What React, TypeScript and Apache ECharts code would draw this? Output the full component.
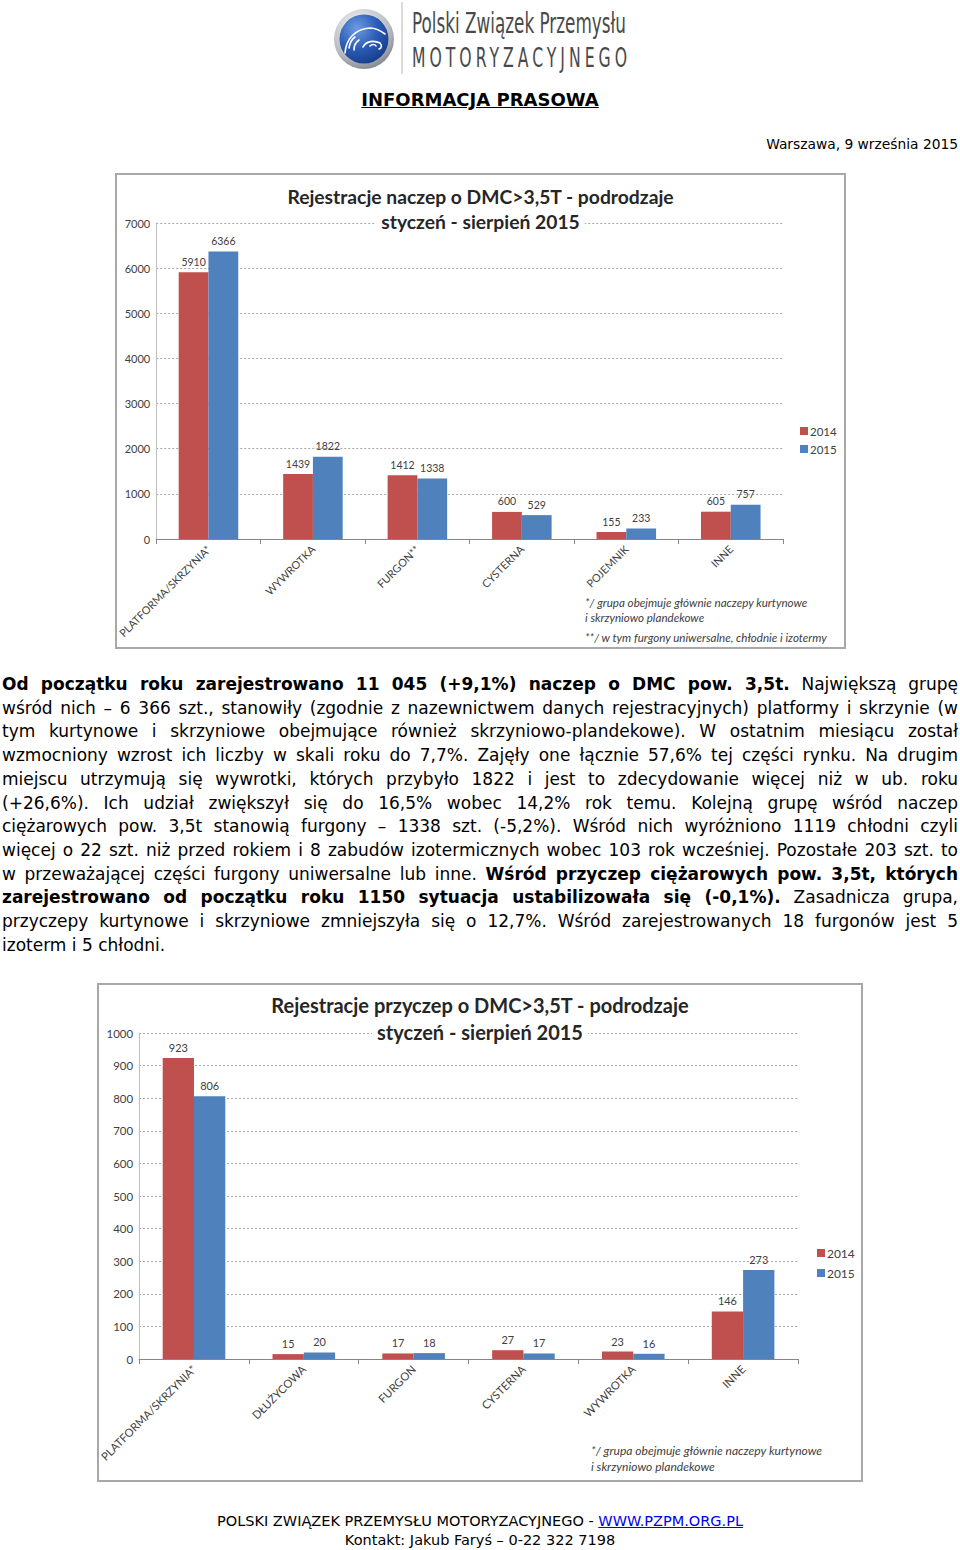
import React, { useEffect, useRef } from "react";
import * as echarts from "echarts";

// ---------- data ----------
const cats1 = ["PLATFORMA/SKRZYNIA*", "WYWROTKA", "FURGON**", "CYSTERNA", "POJEMNIK", "INNE"];
const naczepy2014 = [5910, 1439, 1412, 600, 155, 605];
const naczepy2015 = [6366, 1822, 1338, 529, 233, 757];

const cats2 = ["PLATFORMA/SKRZYNIA*", "DŁUŻYCOWA", "FURGON", "CYSTERNA", "WYWROTKA", "INNE"];
const przyczepy2014 = [923, 15, 17, 27, 23, 146];
const przyczepy2015 = [806, 20, 18, 17, 16, 273];

const seriesNames = ["2014", "2015"];
const title1 = ["Rejestracje naczep o DMC>3,5T - podrodzaje", "styczeń - sierpień 2015"];
const title2 = ["Rejestracje przyczep o DMC>3,5T - podrodzaje", "styczeń - sierpień 2015"];
const notes1 = [
  "*/ grupa obejmuje głównie naczepy kurtynowe",
  "i skrzyniowo plandekowe",
  "**/ w tym furgony uniwersalne, chłodnie i izotermy",
];
const notes2 = ["*/ grupa obejmuje głównie naczepy kurtynowe", "i skrzyniowo plandekowe"];

const RED = "#C0504D";
const BLUE = "#4F81BD";
const TXT = "#404040";
const FF = "Lato, 'Noto Sans', sans-serif";

type Cfg = {
  cats: string[];
  a: number[];
  b: number[];
  max: number;
  interval: number;
  title: string[];
  notes: string[];
  w: number;
  h: number;
  grid: { left: number; right: number; top: number; bottom: number };
  titleTops: number[];
  titleSize: number;
  legendLeft: number;
  legendTop: number;
  legendGap: number;
  notesX: number;
  notesY: number[];
  scale: number;
};

function buildOption(c: Cfg) {
  const s = c.scale;
  const labelStyle = {
    show: true,
    position: "top" as const,
    distance: 5,
    color: TXT,
    fontFamily: FF,
    fontSize: 10.5 * s,
  };
  const titleText = {
    fontFamily: FF,
    fontWeight: "bold" as const,
    fontSize: c.titleSize,
    color: "#262626",
    lineHeight: 22,
  };
  return {
    animation: false,
    title: [
      { text: c.title[0], left: "center", top: c.titleTops[0], padding: 0, textStyle: titleText },
      {
        text: c.title[1],
        left: "center",
        top: c.titleTops[1],
        padding: [0, 5],
        backgroundColor: "#ffffff",
        textStyle: titleText,
      },
    ],
    legend: {
      orient: "vertical",
      left: c.legendLeft,
      top: c.legendTop,
      padding: 0,
      itemWidth: 8,
      itemHeight: 8,
      itemGap: c.legendGap,
      icon: "rect",
      textStyle: { fontFamily: FF, fontSize: 11.5 * s, color: TXT, padding: [0, 0, 0, -3] },
      data: seriesNames,
    },
    grid: c.grid,
    xAxis: {
      type: "category",
      data: c.cats,
      axisLine: { lineStyle: { color: "#868686", width: 1 } },
      axisTick: { show: true, length: 5, lineStyle: { color: "#868686" } },
      axisLabel: {
        interval: 0,
        rotate: 45,
        margin: 8,
        color: TXT,
        fontFamily: FF,
        fontSize: 10.8 * s,
      },
    },
    yAxis: {
      type: "value",
      min: 0,
      max: c.max,
      interval: c.interval,
      axisLine: { show: true, lineStyle: { color: "#bfbfbf", width: 1 } },
      axisTick: { show: false },
      axisLabel: {
        color: TXT,
        fontFamily: FF,
        fontSize: 11 * s,
        margin: 6,
        formatter: (v: number) => String(v),
      },
      splitLine: { lineStyle: { color: "#a6a6a6", type: [2, 2], width: 1 } },
    },
    series: [
      {
        name: seriesNames[0],
        type: "bar",
        data: c.a,
        itemStyle: { color: RED },
        barGap: "0%",
        barCategoryGap: "43%",
        label: labelStyle,
      },
      {
        name: seriesNames[1],
        type: "bar",
        data: c.b,
        itemStyle: { color: BLUE },
        barGap: "0%",
        barCategoryGap: "43%",
        label: labelStyle,
      },
    ],
    graphic: c.notes.map((t, i) => ({
      type: "text",
      left: c.notesX,
      top: c.notesY[i] - 7,
      style: {
        text: t,
        fill: TXT,
        font: `italic ${11.6 * s}px Lato, 'Noto Sans', sans-serif`,
      },
    })),
  };
}

function Chart({ cfg, left, top }: { cfg: Cfg; left: number; top: number }) {
  const ref = useRef<HTMLDivElement>(null);
  useEffect(() => {
    if (!ref.current) return;
    const chart = echarts.init(ref.current, null, { renderer: "svg" });
    chart.setOption(buildOption(cfg) as any);
    return () => chart.dispose();
  }, []);
  return (
    <>
      <div
        style={{
          position: "absolute",
          left,
          top,
          width: cfg.w,
          height: cfg.h,
          boxSizing: "border-box",
          border: "2px solid #a8a8a8",
          background: "#fff",
        }}
      />
      <div ref={ref} style={{ position: "absolute", left, top, width: cfg.w, height: cfg.h }} />
    </>
  );
}

const cfg1: Cfg = {
  cats: cats1,
  a: naczepy2014,
  b: naczepy2015,
  max: 7000,
  interval: 1000,
  title: title1,
  notes: notes1,
  w: 731,
  h: 476,
  grid: { left: 37, right: 63, top: 50, bottom: 110 },
  titleTops: [12, 37],
  titleSize: 19.3,
  legendLeft: 685,
  legendTop: 252,
  legendGap: 6,
  notesX: 470,
  notesY: [430, 445, 465],
  scale: 1,
};

const cfg2: Cfg = {
  cats: cats2,
  a: przyczepy2014,
  b: przyczepy2015,
  max: 1000,
  interval: 100,
  title: title2,
  notes: notes2,
  w: 766,
  h: 499,
  grid: { left: 39, right: 65, top: 50, bottom: 123 },
  titleTops: [11, 38],
  titleSize: 20,
  legendLeft: 720,
  legendTop: 264,
  legendGap: 8,
  notesX: 494,
  notesY: [468, 484],
  scale: 1.04,
};

const TEXT_FONT = "'DejaVu Sans', Verdana, sans-serif";

const paraLines: React.ReactNode[] = [
  <>
    <b>Od początku roku zarejestrowano 11 045 (+9,1%) naczep o DMC pow. 3,5t.</b> Największą grupę
  </>,
  <>wśród nich – 6 366 szt., stanowiły (zgodnie z nazewnictwem danych rejestracyjnych) platformy i skrzynie (w</>,
  <>tym kurtynowe i skrzyniowe obejmujące również skrzyniowo-plandekowe). W ostatnim miesiącu został</>,
  <>wzmocniony wzrost ich liczby w skali roku do 7,7%. Zajęły one łącznie 57,6% tej części rynku. Na drugim</>,
  <>miejscu utrzymują się wywrotki, których przybyło 1822 i jest to zdecydowanie więcej niż w ub. roku</>,
  <>(+26,6%). Ich udział zwiększył się do 16,5% wobec 14,2% rok temu. Kolejną grupę wśród naczep</>,
  <>ciężarowych pow. 3,5t stanowią furgony – 1338 szt. (-5,2%). Wśród nich wyróżniono 1119 chłodni czyli</>,
  <>więcej o 22 szt. niż przed rokiem i 8 zabudów izotermicznych wobec 103 rok wcześniej. Pozostałe 203 szt. to</>,
  <>
    w przeważającej części furgony uniwersalne lub inne. <b>Wśród przyczep ciężarowych pow. 3,5t, których</b>
  </>,
  <>
    <b>zarejestrowano od początku roku 1150 sytuacja ustabilizowała się (-0,1%).</b> Zasadnicza grupa,
  </>,
  <>przyczepy kurtynowe i skrzyniowe zmniejszyła się o 12,7%. Wśród zarejestrowanych 18 furgonów jest 5</>,
  <>izoterm i 5 chłodni.</>,
];

function Logo() {
  const sx = 0.58;
  return (
    <svg width="630" height="80" style={{ position: "absolute", left: 330, top: 0 }}>
      <defs>
        <radialGradient id="ringG" cx="40%" cy="30%" r="75%">
          <stop offset="0" stopColor="#f8f8f8" />
          <stop offset="0.7" stopColor="#b7bbc0" />
          <stop offset="1" stopColor="#7d8288" />
        </radialGradient>
        <radialGradient id="blueG" cx="35%" cy="28%" r="80%">
          <stop offset="0" stopColor="#6c9be0" />
          <stop offset="0.55" stopColor="#2a5bb5" />
          <stop offset="1" stopColor="#163a86" />
        </radialGradient>
      </defs>
      <circle cx="34" cy="39" r="30" fill="url(#ringG)" />
      <circle cx="34" cy="39" r="24.5" fill="url(#blueG)" />
      <g fill="none" stroke="#ffffff" strokeWidth="1.6" strokeLinecap="round">
        <path d="M15 53 C 16 40, 24 29, 40 28 C 47 28, 51 31, 55 34" />
        <path d="M19 48 C 20 42, 22 39, 25 37" />
        <path d="M24 50 C 24 45, 26 42, 29 40" />
        <path d="M33 47 C 36 41, 44 40, 50 43 C 52 45, 52 48, 49 49" />
        <path d="M40 46 C 42 44, 45 44, 46 46" />
      </g>
      <line x1="72" y1="2" x2="72" y2="74" stroke="#cfcfcf" strokeWidth="1.5" />
      <text
        x="82"
        y="33"
        fontFamily="'DejaVu Sans Condensed', 'Liberation Sans', sans-serif"
        fontSize="28"
        fill="#4a4a4a"
        textLength="214"
        lengthAdjust="spacingAndGlyphs"
      >
        Polski Związek Przemysłu
      </text>
      <text
        transform={`translate(82,67) scale(${sx},1)`}
        x="0"
        y="0"
        fontFamily="'DejaVu Sans', 'Liberation Sans', sans-serif"
        fontSize="27"
        fill="#4a4a4a"
        textLength={215 / sx}
        lengthAdjust="spacing"
      >
        MOTORYZACYJNEGO
      </text>
    </svg>
  );
}

export default function App() {
  useEffect(() => {
    document.body.style.margin = "0";
  }, []);
  return (
    <div
      style={{
        position: "absolute",
        left: 0,
        top: 0,
        width: 960,
        height: 1550,
        overflow: "hidden",
        background: "#fff",
        fontFamily: TEXT_FONT,
        color: "#000",
      }}
    >
      <Logo />
      <div
        style={{
          position: "absolute",
          left: 0,
          top: 88,
          width: 960,
          textAlign: "center",
          fontSize: 18,
          fontWeight: "bold",
          textDecoration: "underline",
          lineHeight: "24px",
        }}
      >
        INFORMACJA PRASOWA
      </div>
      <div
        style={{
          position: "absolute",
          right: 2,
          top: 134,
          fontSize: 13.8,
          lineHeight: "20px",
          whiteSpace: "nowrap",
        }}
      >
        Warszawa, 9 września 2015
      </div>

      <Chart cfg={cfg1} left={115} top={173} />

      <div style={{ position: "absolute", left: 2, top: 673, width: 956, fontSize: 17, lineHeight: "23.72px" }}>
        {paraLines.map((ln, i) => (
          <div
            key={i}
            style={{
              textAlign: i === paraLines.length - 1 ? "left" : "justify",
              textAlignLast: i === paraLines.length - 1 ? "left" : "justify",
              whiteSpace: "nowrap",
            }}
          >
            {ln}
          </div>
        ))}
      </div>

      <Chart cfg={cfg2} left={97} top={983} />

      <div
        style={{
          position: "absolute",
          left: 0,
          top: 1512,
          width: 960,
          textAlign: "center",
          fontSize: 14.5,
          lineHeight: "19px",
        }}
      >
        <div>
          POLSKI ZWIĄZEK PRZEMYSŁU MOTORYZACYJNEGO -{" "}
          <span style={{ color: "#0000ee", textDecoration: "underline" }}>WWW.PZPM.ORG.PL</span>
        </div>
        <div>Kontakt: Jakub Faryś – 0-22 322 7198</div>
      </div>
    </div>
  );
}
